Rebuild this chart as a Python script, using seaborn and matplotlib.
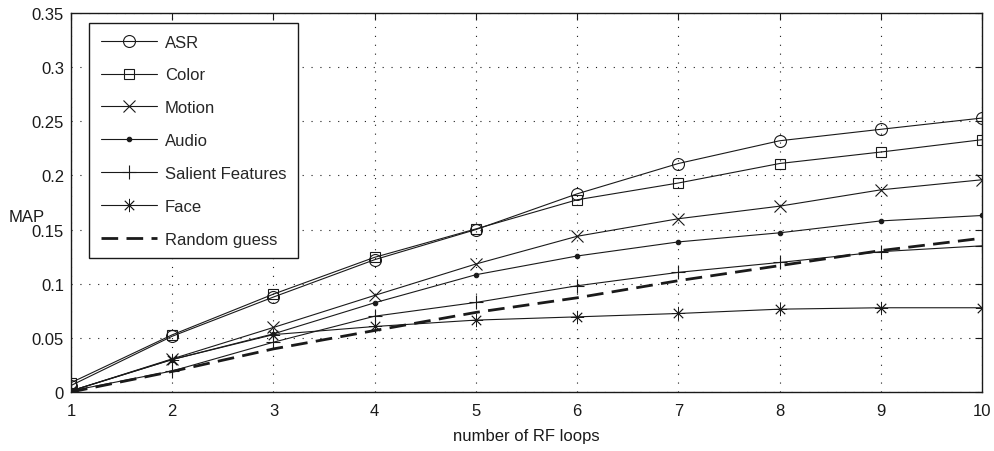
import matplotlib
matplotlib.use("Agg")
import matplotlib.pyplot as plt
import seaborn as sns
import numpy as np

sns.set_theme(style="white")
plt.rcParams['font.family'] = ['Liberation Sans', 'DejaVu Sans']

loops = [1, 2, 3, 4, 5, 6, 7, 8, 9, 10]
asr = [0.006, 0.0515, 0.0877, 0.1222, 0.150, 0.183, 0.211, 0.232, 0.2426, 0.253]
color = [0.0086, 0.0528, 0.0904, 0.1244, 0.1506, 0.1775, 0.193, 0.211, 0.2216, 0.233]
motion = [0.001, 0.0306, 0.0596, 0.0892, 0.1182, 0.1438, 0.160, 0.1716, 0.1867, 0.196]
audio = [0.001, 0.030, 0.0537, 0.0824, 0.1083, 0.1256, 0.1386, 0.147, 0.158, 0.163]
salient = [0.001, 0.0194, 0.046, 0.070, 0.0827, 0.0981, 0.1105, 0.1196, 0.1296, 0.135]
face = [0.001, 0.030, 0.053, 0.0605, 0.0664, 0.0694, 0.0725, 0.0765, 0.0778, 0.0778]
random_guess = [0.0, 0.019, 0.0398, 0.0568, 0.0735, 0.087, 0.1028, 0.1167, 0.1306, 0.142]

labels = ["ASR", "Color", "Motion", "Audio", "Salient Features", "Face", "Random guess"]
xticks = [1, 2, 3, 4, 5, 6, 7, 8, 9, 10]
yticks = [0, 0.05, 0.1, 0.15, 0.2, 0.25, 0.3, 0.35]
yticklabels = ["0", "0.05", "0.1", "0.15", "0.2", "0.25", "0.3", "0.35"]

fig = plt.figure(figsize=(9.95, 4.52), dpi=100)
ax = fig.add_axes([71/995, 1-393/452, (982-71)/995, (393-14)/452])

series = [
    (asr, dict(marker='o', markersize=8.6, markerfacecolor='none', markeredgewidth=0.8)),
    (color, dict(marker='s', markersize=7.2, markerfacecolor='none', markeredgewidth=0.8)),
    (motion, dict(marker='x', markersize=8.6, markeredgewidth=0.8)),
    (audio, dict(marker='o', markersize=3.2, markerfacecolor='k', markeredgewidth=0.8)),
    (salient, dict(marker='+', markersize=10, markeredgewidth=0.8)),
    (face, dict(marker=(8, 2, 0), markersize=9.5, markeredgewidth=0.6)),
]

for (vals, kw), lbl in zip(series, labels[:6]):
    sns.lineplot(x=loops, y=vals, ax=ax, color='k', lw=0.8, markeredgecolor='k',
                 label=lbl, **kw)
sns.lineplot(x=loops, y=random_guess, ax=ax, color='k', lw=2.0, label=labels[6])
ax.lines[-1].set_dashes((6, 3))

ax.set_xlim(1, 10)
ax.set_ylim(0, 0.35)
ax.set_xticks(xticks)
ax.set_xticklabels([str(t) for t in xticks])
ax.set_yticks(yticks)
ax.set_yticklabels(yticklabels)
ax.tick_params(axis='both', which='both', direction='in', length=5, width=0.8,
               top=True, right=True, labelsize=12, colors='k')
ax.tick_params(axis='x', pad=8)
ax.tick_params(axis='y', pad=5)
ax.grid(True, linestyle=(0, (1, 7)), color='k', linewidth=0.8)
for sp in ax.spines.values():
    sp.set_color('k')
    sp.set_linewidth(1.0)
    sp.set_visible(True)

ax.set_xlabel("number of RF loops", fontsize=12, color='k', labelpad=7)
ax.set_ylabel("")
fig.text(27/995, 1-218/452, "MAP", fontsize=12, ha='center', va='center', color='k')

leg = ax.legend(loc='upper left', bbox_to_anchor=((89-71)/911, (393-24)/379),
                fontsize=12, frameon=True, fancybox=False, edgecolor='k',
                framealpha=1, labelspacing=1.07, handlelength=3.4,
                handletextpad=0.45, borderpad=0.7, borderaxespad=0, numpoints=1)
leg.get_frame().set_linewidth(1.0)

fig.savefig("out.png", dpi=100)
